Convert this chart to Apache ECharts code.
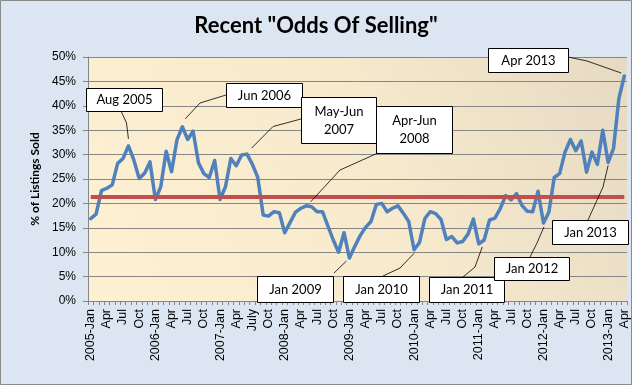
<!DOCTYPE html>
<html>
<head>
<meta charset="utf-8">
<script src="https://cdn.jsdelivr.net/npm/echarts@6/dist/echarts.min.js"></script>
<style>
html,body{margin:0;padding:0;background:#fff;}
#chart{width:632px;height:385px;}
</style>
</head>
<body>
<div id="chart"></div>
<script>
// ---- Data ----
const categories = [
  "2005-Jan","Feb","Mar","Apr","May","Jun","Jul","Aug","Sep","Oct","Nov","Dec",
  "2006-Jan","Feb","Mar","Apr","May","Jun","Jul","Aug","Sep","Oct","Nov","Dec",
  "2007-Jan","Feb","Mar","Apr","May","Jun","July","Aug","Sep","Oct","Nov","Dec",
  "2008-Jan","Feb","Mar","Apr","May","Jun","Jul","Aug","Sep","Oct","Nov","Dec",
  "2009-Jan","Feb","Mar","Apr","May","Jun","Jul","Aug","Sep","Oct","Nov","Dec",
  "2010-Jan","Feb","Mar","Apr","May","Jun","Jul","Aug","Sep","Oct","Nov","Dec",
  "2011-Jan","Feb","Mar","Apr","May","Jun","Jul","Aug","Sep","Oct","Nov","Dec",
  "2012-Jan","Feb","Mar","Apr","May","Jun","Jul","Aug","Sep","Oct","Nov","Dec",
  "2013-Jan","Feb","Mar","Apr"
];
const oddsOfSelling = [
  16.9,17.8,22.6,23.1,23.8,28.2,29.2,31.8,28.9,25.1,26.2,28.5,
  20.8,23.4,30.7,26.5,33.0,35.7,33.1,34.8,28.3,26.1,25.3,28.8,
  20.8,23.4,29.2,27.7,29.9,30.1,28.0,25.3,17.6,17.4,18.3,18.1,
  14.0,16.1,18.2,19.0,19.5,19.3,18.3,18.3,15.4,12.5,10.0,14.0,
  8.8,11.2,13.4,15.1,16.3,19.8,20.0,18.3,19.0,19.5,18.0,16.3,
  10.5,12.0,16.9,18.3,17.9,16.7,12.6,13.2,11.9,12.2,13.7,16.8,
  11.7,12.5,16.6,17.0,19.0,21.6,20.7,22.0,19.6,18.4,18.3,22.5,
  16.0,18.2,25.3,26.1,30.5,33.1,30.8,32.8,26.4,30.5,28.0,35.0,
  28.4,31.3,41.5,46.1
];
const averageOdds = 21.4;
const yTicks = { min: 0, max: 50, interval: 5 };

// annotations: label text, data index they point at
const annotationTexts = ["Aug 2005","Jun 2006","May-Jun\n2007","Apr-Jun\n2008","Jan 2009","Jan 2010","Jan 2011","Jan 2012","Jan 2013","Apr 2013"];
const annotationIndex = [7,17,28,41,48,60,72,84,96,99];

// ---- Layout (pixels) for callouts ----
const annotationLayout = [
  {box:[86,88,76,23],  path:[[121,111],[126.5,123]], off:[0,-7]},
  {box:[226,83,76,24], path:[[226,95],[200,103]],    off:[3,-8]},
  {box:[301,97,75,46], path:[[301,119],[273,126.5]], off:[10,-7]},
  {box:[376,106,76,47],path:[[378,153],[340,170]],   off:[-1,-5]},
  {box:[257,276,76,26],path:[[334,273]],             off:[-3,3]},
  {box:[343,276,76,26],path:[[383,276],[400,268]],   off:[0,3.5]},
  {box:[429,277,75,25],path:[[463,277],[475,267]],   off:[3.5,3]},
  {box:[494,257,75,23],path:[[530,257],[537,243]],   off:[0.5,4]},
  {box:[552,220,76,24],path:[[588,220],[603,187]],   off:[0,3]},
  {box:[488,48,80,24], path:[[568,57],[587,61]],     off:[-3,-3]}
];

const chart = echarts.init(document.getElementById('chart'), null, {renderer:'canvas'});
const option = {
  backgroundColor: '#dce6f2',
  animation: false,
  title: {
    text: 'Recent "Odds Of Selling"',
    left: 'center', top: 15, padding: 0,
    textStyle: {fontFamily: 'Lato', fontWeight: 'bold', fontSize: 22, color: '#000'}
  },
  grid: {
    left: 88, right: 5, top: 57, bottom: 84, show: true, borderWidth: 0,
    backgroundColor: {type:'linear', x:0, y:1, x2:1, y2:0, colorStops:[
      {offset:0, color:'#fdf0d3'},{offset:0.55, color:'#f6e9cc'},{offset:1, color:'#e6dac4'}]}
  },
  xAxis: {
    type: 'category', data: categories, boundaryGap: true,
    axisLine: {show: true, lineStyle: {color: '#868686', width: 1}},
    axisTick: {show: true, interval: 0, length: 4, lineStyle: {color: '#868686'}},
    axisLabel: {interval: 2, rotate: 90, margin: 8, fontFamily: 'Liberation Sans', fontSize: 12.5, color: '#000'},
    splitLine: {show: false}
  },
  yAxis: {
    type: 'value', min: yTicks.min, max: yTicks.max, interval: yTicks.interval,
    name: '% of Listings Sold', nameLocation: 'middle', nameRotate: 90, nameGap: 41,
    nameTextStyle: {fontFamily: 'Lato', fontWeight: 'bold', fontSize: 12, color: '#000'},
    axisLine: {show: true, lineStyle: {color: '#868686', width: 1}},
    axisTick: {show: true, length: 5, lineStyle: {color: '#868686'}},
    axisLabel: {formatter: '{value}%', margin: 12, fontFamily: 'Liberation Sans', fontSize: 12, color: '#000'},
    splitLine: {show: true, lineStyle: {color: '#868686', width: 1}}
  },
  series: [
    {
      type: 'line', data: oddsOfSelling, showSymbol: false, smooth: false, z: 3,
      lineStyle: {color: '#4f81bd', width: 3.5, join: 'round', cap: 'round'}
    },
    {
      type: 'line', data: [], z: 4,
      markLine: {
        silent: true, symbol: ['none','none'], label: {show: false},
        lineStyle: {color: '#c0504d', width: 4, type: 'solid'},
        data: [[{coord: [0, averageOdds]}, {coord: [categories.length - 1, averageOdds]}]]
      }
    }
  ]
};
chart.setOption(option);

const graphics = [];
annotationTexts.forEach((txt, k) => {
  const L = annotationLayout[k];
  const idx = annotationIndex[k];
  const p = chart.convertToPixel({xAxisIndex: 0, yAxisIndex: 0}, [idx, oddsOfSelling[idx]]);
  const pts = L.path.concat([[p[0] + L.off[0], p[1] + L.off[1]]]);
  graphics.push({type: 'polyline', z: 50, shape: {points: pts}, style: {stroke: '#000', lineWidth: 0.8, fill: null}});
});
annotationTexts.forEach((txt, k) => {
  const b = annotationLayout[k].box;
  graphics.push({type: 'rect', z: 60, shape: {x: b[0] + 0.5, y: b[1] + 0.5, width: b[2], height: b[3]},
    style: {fill: '#fff', stroke: '#000', lineWidth: 1}});
  graphics.push({type: 'text', z: 61, x: b[0] + b[2] / 2 + 0.5, y: b[1] + b[3] / 2 + 0.5,
    style: {text: txt, font: '13px Lato', fill: '#000', align: 'center', verticalAlign: 'middle', lineHeight: 18}});
});
graphics.push({type: 'rect', z: 100, silent: true, shape: {x: 0.5, y: 0.5, width: 631, height: 384},
  style: {fill: null, stroke: '#8a8a8a', lineWidth: 1}});
chart.setOption({graphic: graphics});
</script>
</body>
</html>
